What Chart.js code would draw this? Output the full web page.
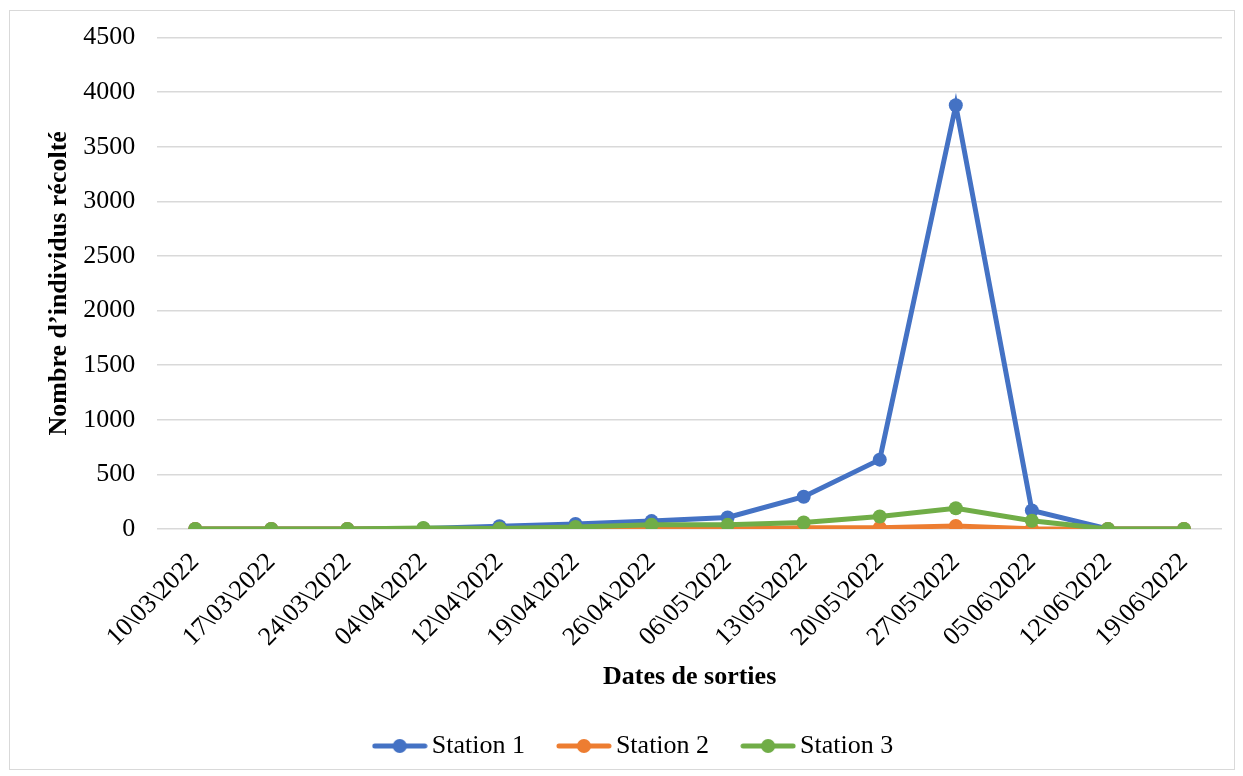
<!DOCTYPE html>
<html>
<head>
<meta charset="utf-8">
<script src="https://cdn.jsdelivr.net/npm/chart.js@4"></script>
<style>
  html, body { margin: 0; padding: 0; background: #fff; }
  #wrap { width: 1243px; height: 776px; }
</style>
</head>
<body>
<div id="wrap"><canvas id="chart" width="1243" height="776"></canvas></div>
<script>
const dates = ['10\\03\\2022', '17\\03\\2022', '24\\03\\2022', '04\\04\\2022', '12\\04\\2022',
    '19\\04\\2022', '26\\04\\2022', '06\\05\\2022', '13\\05\\2022', '20\\05\\2022',
    '27\\05\\2022', '05\\06\\2022', '12\\06\\2022', '19\\06\\2022'];
const station1 = [0, 0, 0, 5, 25, 45, 72, 105, 295, 635, 3880, 170, 0, 0];
const station2 = [0, 0, 0, 0, 0, 0, 0, 0, 12, 12, 28, 2, 0, 0];
const station3 = [0, 0, 0, 10, 5, 18, 38, 38, 60, 115, 190, 75, 0, 0];
const yTicks = [0, 500, 1000, 1500, 2000, 2500, 3000, 3500, 4000, 4500];

const colors = ['#4472C4', '#ED7D31', '#70AD47'];
const fontFamily = '"Liberation Serif", "Times New Roman", serif';

function legendIcon(color){
    const c = document.createElement('canvas');
    c.width = 56; c.height = 16;
    const ctx = c.getContext('2d');
    ctx.strokeStyle = color;
    ctx.lineWidth = 5;
    ctx.lineCap = 'round';
    ctx.beginPath();
    ctx.moveTo(3, 8); ctx.lineTo(53, 8);
    ctx.stroke();
    ctx.fillStyle = color;
    ctx.beginPath();
    ctx.arc(28, 8, 7, 0, Math.PI * 2);
    ctx.fill();
    return c;
}

// white background + thin grey frame, legend nudged right like the original
const frame = {
    id: 'frame',
    afterLayout(chart){
        if (chart.legend) {
            chart.legend.left += 11;
            chart.legend.right += 11;
        }
    },
    beforeDraw(chart){
        const ctx = chart.ctx;
        ctx.save();
        ctx.fillStyle = '#fff';
        ctx.fillRect(0, 0, chart.width, chart.height);
        ctx.strokeStyle = '#d9d9d9';
        ctx.lineWidth = 1;
        ctx.strokeRect(9.5, 10.5, 1225, 759);
        ctx.restore();
    }
};

function makeSet(label, data, i, order){
    return {
        label: label,
        data: data,
        borderColor: colors[i],
        backgroundColor: colors[i],
        borderWidth: 5,
        pointRadius: 7,
        pointHoverRadius: 7,
        pointBorderWidth: 0,
        pointBackgroundColor: colors[i],
        tension: 0,
        fill: false,
        order: order,
    };
}

new Chart(document.getElementById('chart').getContext('2d'), {
    type: 'line',
    data: {
        labels: dates,
        datasets: [
            makeSet('Station 1', station1, 0, 3),
            makeSet('Station 2', station2, 1, 2),
            makeSet('Station 3', station3, 2, 1),
        ],
    },
    plugins: [frame],
    options: {
        responsive: false,
        animation: false,
        layout: { padding: { left: 30, right: 21, top: 32, bottom: 7 } },
        plugins: {
            legend: {
                position: 'bottom',
                labels: {
                    usePointStyle: true,
                    pointStyleWidth: 38,
                    padding: 40,
                    color: '#000',
                    font: { family: fontFamily, size: 26 },
                    sort: (a, b) => a.datasetIndex - b.datasetIndex,
                    generateLabels(chart){
                        const items = Chart.defaults.plugins.legend.labels.generateLabels(chart);
                        items.forEach(it => { it.pointStyle = legendIcon(colors[it.datasetIndex]); });
                        return items;
                    }
                }
            },
            tooltip: { enabled: false },
        },
        scales: {
            y: {
                min: 0,
                max: 4500,
                afterBuildTicks(axis){ axis.ticks = yTicks.map(v => ({ value: v })); },
                ticks: {
                    color: '#000',
                    padding: 22,
                    font: { family: fontFamily, size: 26 },
                    callback: (v) => String(v),
                },
                grid: { color: '#d9d9d9', lineWidth: 1.5, drawTicks: false },
                border: { display: false },
                title: {
                    display: true,
                    text: 'Nombre d’individus récolté',
                    color: '#000',
                    padding: { top: 14, bottom: -14 },
                    font: { family: fontFamily, size: 26, weight: 'bold' },
                },
            },
            x: {
                offset: true,
                ticks: {
                    color: '#000',
                    autoSkip: false,
                    minRotation: 45,
                    maxRotation: 45,
                    padding: 18,
                    font: { family: fontFamily, size: 26 },
                },
                grid: { display: false, drawTicks: false },
                border: { display: false },
                title: {
                    display: true,
                    text: 'Dates de sorties',
                    color: '#000',
                    padding: { top: -9, bottom: 0 },
                    font: { family: fontFamily, size: 26, weight: 'bold' },
                },
            }
        }
    }
});
</script>
</body>
</html>
